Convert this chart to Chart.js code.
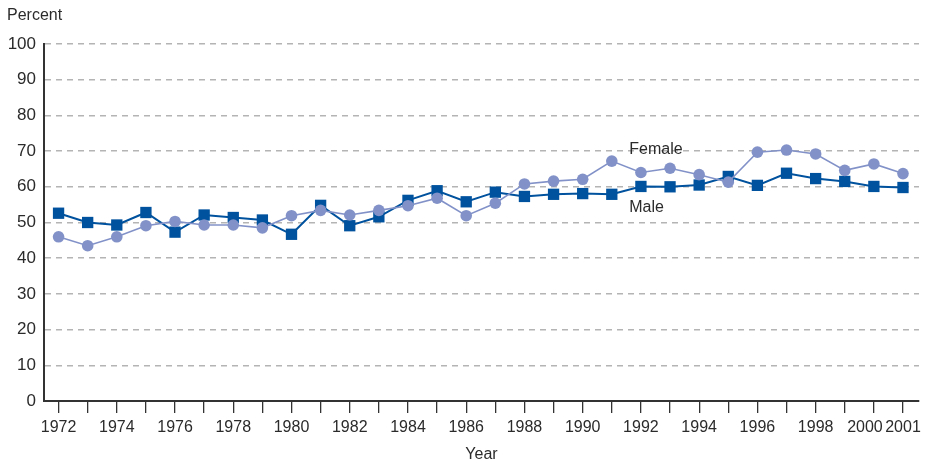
<!DOCTYPE html>
<html lang="en">
<head>
    <meta charset="UTF-8">
    <title>Percent by year, male and female</title>
    <script src="https://cdn.jsdelivr.net/npm/chart.js"></script>
    <style>
        html, body {
            margin: 0;
            padding: 0;
            background: #ffffff;
        }
        #wrap {
            width: 927px;
            height: 464px;
            position: relative;
        }
    </style>
</head>
<body>
    <div id="wrap"><canvas id="chart"></canvas></div>

    <script>
        // data
        const years = [1972, 1973, 1974, 1975, 1976, 1977, 1978, 1979, 1980, 1981,
                       1982, 1983, 1984, 1985, 1986, 1987, 1988, 1989, 1990, 1991,
                       1992, 1993, 1994, 1995, 1996, 1997, 1998, 1999, 2000, 2001];
        const male = [52.6, 50.0, 49.3, 52.8, 47.3, 52.1, 51.4, 50.7, 46.7, 54.8,
                      49.1, 51.6, 56.2, 58.9, 55.8, 58.5, 57.3, 57.9, 58.1, 57.9,
                      60.1, 60.0, 60.5, 62.9, 60.4, 63.8, 62.3, 61.5, 60.1, 59.8];
        const female = [46.0, 43.5, 46.0, 49.1, 50.3, 49.3, 49.3, 48.5, 51.9, 53.4,
                        52.1, 53.4, 54.7, 56.8, 51.9, 55.4, 60.8, 61.6, 62.1, 67.2,
                        64.0, 65.2, 63.4, 61.3, 69.7, 70.3, 69.2, 64.6, 66.4, 63.7];
        const yTicks = [0, 10, 20, 30, 40, 50, 60, 70, 80, 90, 100];
        // labelled years on the x axis
        const xLabelYears = [1972, 1974, 1976, 1978, 1980, 1982, 1984, 1986, 1988,
                             1990, 1992, 1994, 1996, 1998, 2000, 2001];

        const FONT = '"Liberation Sans", Arial, sans-serif';
        const TEXT = '#2b2b2b';

        // series labels drawn next to the lines
        const seriesLabels = [
            { text: 'Female', year: 1991.6, value: 70.4 },
            { text: 'Male', year: 1991.6, value: 54.3 }
        ];

        const toPoints = (vals) => years.map((yr, i) => ({ x: yr, y: vals[i] }));

        const textPlugin = {
            id: 'texts',
            afterDraw(chart) {
                const ctx = chart.ctx;
                const xs = chart.scales.x;
                const ys = chart.scales.y;
                ctx.save();
                ctx.fillStyle = TEXT;
                ctx.textBaseline = 'middle';
                ctx.textAlign = 'left';
                ctx.font = '16px ' + FONT;
                ctx.fillText('Percent', 7, 16);
                seriesLabels.forEach(l => {
                    ctx.fillText(l.text, xs.getPixelForValue(l.year), ys.getPixelForValue(l.value));
                });
                ctx.restore();
            }
        };

        new Chart(document.getElementById('chart'), {
            type: 'line',
            data: {
                datasets: [
                    {
                        label: 'Female',
                        data: toPoints(female),
                        borderColor: '#8292c8',
                        backgroundColor: '#8292c8',
                        borderWidth: 1.6,
                        pointStyle: 'circle',
                        pointRadius: 5.8,
                        pointBorderWidth: 0,
                        tension: 0
                    },
                    {
                        label: 'Male',
                        data: toPoints(male),
                        borderColor: '#00529e',
                        backgroundColor: '#00529e',
                        borderWidth: 2,
                        pointStyle: 'rect',
                        pointRadius: 8,
                        pointBorderWidth: 0,
                        tension: 0
                    }
                ]
            },
            options: {
                responsive: true,
                maintainAspectRatio: false,
                animation: false,
                layout: { padding: { top: 44, right: 7, left: 0, bottom: 0 } },
                plugins: {
                    legend: { display: false },
                    tooltip: { enabled: false }
                },
                scales: {
                    x: {
                        type: 'linear',
                        min: 1971.5,
                        max: 2001.55,
                        afterBuildTicks: (scale) => {
                            scale.ticks = years.map(v => ({ value: v }));
                        },
                        afterFit: (scale) => { scale.height = 63; },
                        ticks: {
                            autoSkip: false,
                            maxRotation: 0,
                            padding: 5,
                            color: TEXT,
                            font: { family: FONT, size: 16 },
                            callback: (v) => {
                                if (!xLabelYears.includes(v)) return '';
                                // nudge 2000 left so it clears 2001
                                return v === 2000 ? '2000    ' : String(v);
                            }
                        },
                        grid: {
                            drawOnChartArea: false,
                            drawTicks: true,
                            tickLength: 12,
                            color: '#333333',
                            lineWidth: 1.3
                        },
                        border: { display: true, color: '#333333', width: 2 },
                        title: {
                            display: true,
                            text: 'Year',
                            color: TEXT,
                            font: { family: FONT, size: 16, lineHeight: 1 },
                            padding: { top: 0, bottom: 1 }
                        }
                    },
                    y: {
                        min: 0,
                        max: 100,
                        afterBuildTicks: (scale) => {
                            scale.ticks = yTicks.map(v => ({ value: v }));
                        },
                        afterFit: (scale) => { scale.width = 44; },
                        ticks: {
                            padding: 8,
                            color: TEXT,
                            font: { family: FONT, size: 17 }
                        },
                        grid: {
                            drawTicks: false,
                            color: '#b4b4b4',
                            lineWidth: 1.6
                        },
                        border: { display: true, color: '#333333', width: 2, dash: [6, 5] }
                    }
                }
            },
            plugins: [textPlugin]
        });
    </script>
</body>
</html>
